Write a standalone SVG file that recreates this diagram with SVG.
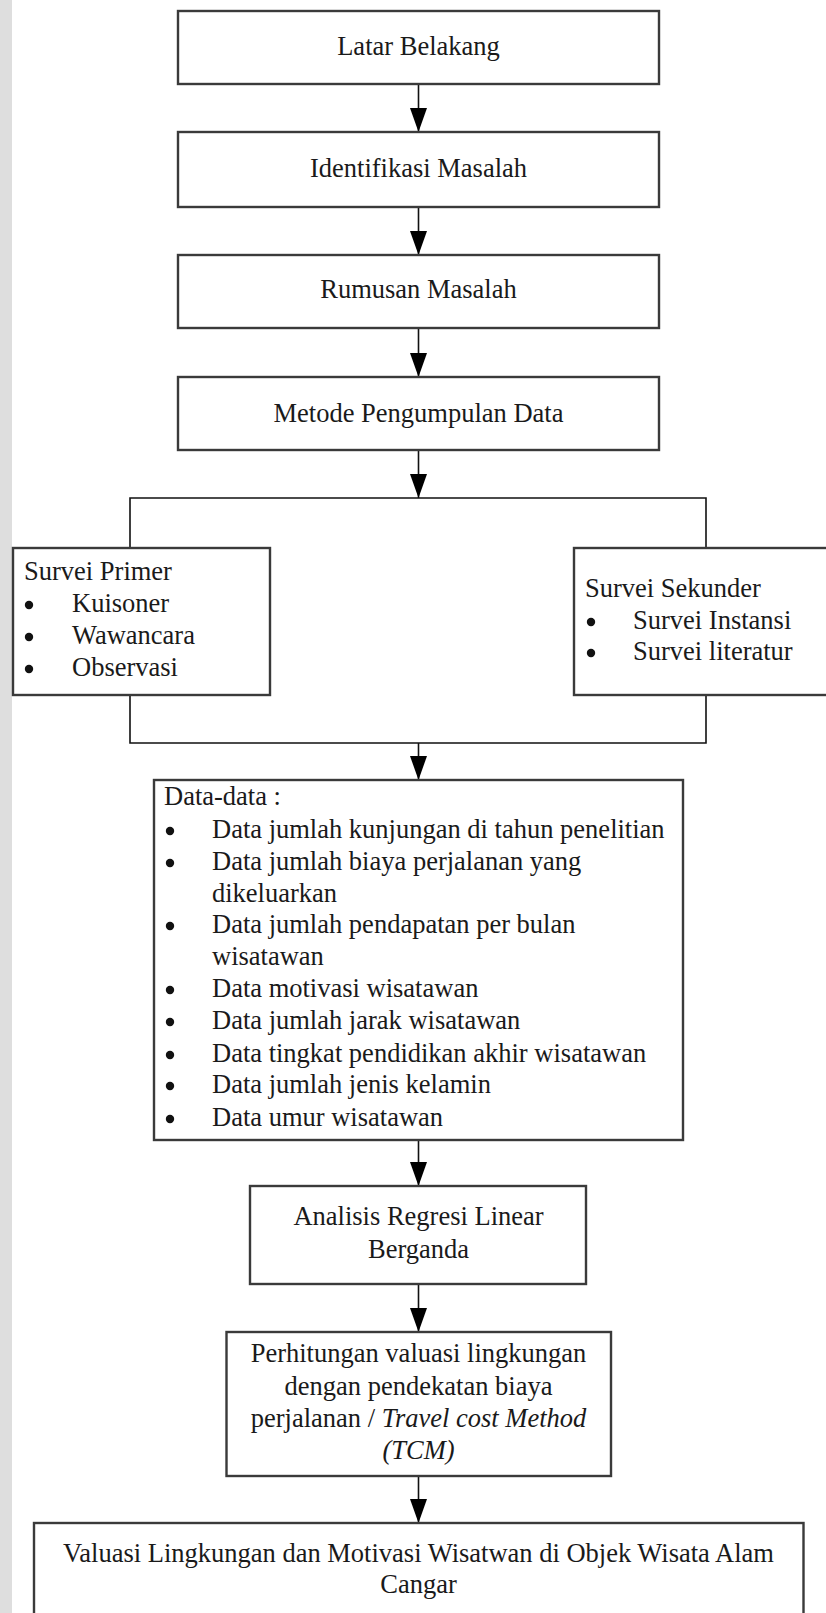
<svg xmlns="http://www.w3.org/2000/svg" width="826" height="1613" viewBox="0 0 826 1613">
<style>
.box{fill:#ffffff;stroke:#3a3a3a;stroke-width:2.4}
.t{font-family:"Liberation Serif","Times New Roman",serif;font-size:26.5px;fill:#1a1a1a}
.c{text-anchor:middle}
.ln{stroke:#111;stroke-width:1.6;fill:none}
.b{fill:#111}
</style>
<defs>
<marker id="ah" markerUnits="userSpaceOnUse" markerWidth="25" markerHeight="18" refX="24" refY="8.5" orient="auto">
<path d="M0,0 L24,8.5 L0,17 z" fill="#000"/>
</marker>
</defs>
<rect x="0" y="0" width="826" height="1613" fill="#ffffff"/>
<rect x="0" y="0" width="12" height="1613" fill="#dedede"/>

<g id="connectors">
<line class="ln" x1="418.5" y1="84" x2="418.5" y2="132" marker-end="url(#ah)"/>
<line class="ln" x1="418.5" y1="207" x2="418.5" y2="255" marker-end="url(#ah)"/>
<line class="ln" x1="418.5" y1="328" x2="418.5" y2="377" marker-end="url(#ah)"/>
<line class="ln" x1="418.5" y1="450" x2="418.5" y2="498" marker-end="url(#ah)"/>
<path class="ln" d="M130,548 L130,498 L706,498 L706,548"/>
<path class="ln" d="M130,695 L130,743 L706,743 L706,695"/>
<line class="ln" x1="418.5" y1="743" x2="418.5" y2="780" marker-end="url(#ah)"/>
<line class="ln" x1="418.5" y1="1140" x2="418.5" y2="1186" marker-end="url(#ah)"/>
<line class="ln" x1="418.5" y1="1284" x2="418.5" y2="1332" marker-end="url(#ah)"/>
<line class="ln" x1="418.5" y1="1476" x2="418.5" y2="1523" marker-end="url(#ah)"/>
</g>

<g id="latar">
<rect class="box" x="178" y="11" width="481" height="73"/>
<text class="t c" x="418.5" y="55">Latar Belakang</text>
</g>
<g id="identifikasi">
<rect class="box" x="178" y="132" width="481" height="75"/>
<text class="t c" x="418.5" y="177">Identifikasi Masalah</text>
</g>
<g id="rumusan">
<rect class="box" x="178" y="255" width="481" height="73"/>
<text class="t c" x="418.5" y="298">Rumusan Masalah</text>
</g>
<g id="metode">
<rect class="box" x="178" y="377" width="481" height="73"/>
<text class="t c" x="418.5" y="422">Metode Pengumpulan Data</text>
</g>

<g id="primer">
<rect class="box" x="13" y="548" width="257" height="147"/>
<text class="t" x="24" y="580">Survei Primer</text>
<circle class="b" cx="29" cy="605" r="4.2"/>
<text class="t" x="72" y="612">Kuisoner</text>
<circle class="b" cx="29" cy="637" r="4.2"/>
<text class="t" x="72" y="644">Wawancara</text>
<circle class="b" cx="29" cy="669" r="4.2"/>
<text class="t" x="72" y="676">Observasi</text>
</g>

<g id="sekunder">
<rect class="box" x="574" y="548" width="260" height="147"/>
<text class="t" x="585" y="597">Survei Sekunder</text>
<circle class="b" cx="591" cy="622" r="4.2"/>
<text class="t" x="633" y="629">Survei Instansi</text>
<circle class="b" cx="591" cy="653" r="4.2"/>
<text class="t" x="633" y="660">Survei literatur</text>
</g>

<g id="data">
<rect class="box" x="154" y="780" width="529" height="360"/>
<text class="t" x="164" y="805">Data-data :</text>
<circle class="b" cx="170" cy="831" r="4.2"/>
<text class="t" x="212" y="838">Data jumlah kunjungan di tahun penelitian</text>
<circle class="b" cx="170" cy="863" r="4.2"/>
<text class="t" x="212" y="870">Data jumlah biaya perjalanan yang</text>
<text class="t" x="212" y="902">dikeluarkan</text>
<circle class="b" cx="170" cy="926" r="4.2"/>
<text class="t" x="212" y="933">Data jumlah pendapatan per bulan</text>
<text class="t" x="212" y="965">wisatawan</text>
<circle class="b" cx="170" cy="990" r="4.2"/>
<text class="t" x="212" y="997">Data motivasi wisatawan</text>
<circle class="b" cx="170" cy="1022" r="4.2"/>
<text class="t" x="212" y="1029">Data jumlah jarak wisatawan</text>
<circle class="b" cx="170" cy="1055" r="4.2"/>
<text class="t" x="212" y="1062">Data tingkat pendidikan akhir wisatawan</text>
<circle class="b" cx="170" cy="1086" r="4.2"/>
<text class="t" x="212" y="1093">Data jumlah jenis kelamin</text>
<circle class="b" cx="170" cy="1119" r="4.2"/>
<text class="t" x="212" y="1126">Data umur wisatawan</text>
</g>

<g id="analisis">
<rect class="box" x="250" y="1186" width="336" height="98"/>
<text class="t c" x="418.5" y="1225">Analisis Regresi Linear</text>
<text class="t c" x="418.5" y="1258">Berganda</text>
</g>

<g id="perhitungan">
<rect class="box" x="226.5" y="1332" width="384.5" height="144"/>
<text class="t c" x="418.5" y="1362">Perhitungan valuasi lingkungan</text>
<text class="t c" x="418.5" y="1395">dengan pendekatan biaya</text>
<text class="t c" x="418.5" y="1427">perjalanan / <tspan font-style="italic">Travel cost Method</tspan></text>
<text class="t c" x="418.5" y="1459" font-style="italic">(TCM)</text>
</g>

<g id="valuasi">
<rect class="box" x="34" y="1523" width="769.5" height="100"/>
<text class="t c" x="418.5" y="1562">Valuasi Lingkungan dan Motivasi Wisatwan di Objek Wisata Alam</text>
<text class="t c" x="418.5" y="1593">Cangar</text>
</g>
</svg>
